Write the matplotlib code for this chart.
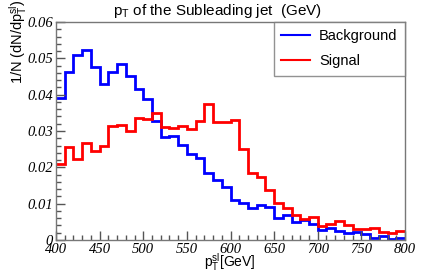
import numpy as np
import matplotlib
matplotlib.use("Agg")
import matplotlib.pyplot as plt
from matplotlib.ticker import MultipleLocator, FixedLocator

plt.rcParams['mathtext.default'] = 'regular'
plt.rcParams['font.family'] = ['Liberation Sans', 'DejaVu Sans']

edges = np.arange(400, 801, 10)
background = [0.0390, 0.0463, 0.0509, 0.0523, 0.0477, 0.0429, 0.0463, 0.0484, 0.0451, 0.0415,
              0.0389, 0.0328, 0.0284, 0.0287, 0.0261, 0.0236, 0.0227, 0.0184, 0.0165, 0.0147,
              0.0110, 0.0101, 0.0088, 0.0096, 0.0092, 0.0060, 0.0069, 0.0050, 0.0055, 0.0043,
              0.0028, 0.0032, 0.0026, 0.0019, 0.0022, 0.0017, 0.0006, 0.0011, 0.0002, 0.0006]
signal = [0.0209, 0.0257, 0.0223, 0.0266, 0.0246, 0.0259, 0.0314, 0.0316, 0.0301, 0.0335,
          0.0333, 0.0349, 0.0312, 0.0309, 0.0314, 0.0306, 0.0328, 0.0374, 0.0325, 0.0325,
          0.0330, 0.0250, 0.0184, 0.0174, 0.0138, 0.0103, 0.0089, 0.0069, 0.0057, 0.0062,
          0.0039, 0.0043, 0.0053, 0.0042, 0.0031, 0.0030, 0.0032, 0.0023, 0.0019, 0.0024]
xticks = [400, 450, 500, 550, 600, 650, 700, 750, 800]
yticks = [0, 0.01, 0.02, 0.03, 0.04, 0.05, 0.06]
ytick_labels = ['0', '0.01', '0.02', '0.03', '0.04', '0.05', '0.06']

fig = plt.figure(figsize=(4.36, 2.73), dpi=100)
ax = fig.add_axes([56/436, 1-240/273, (405-56)/436, (240-22)/273])

ax.stairs(background, edges, baseline=None, color='#0000ff', lw=2.0, label='Background')
ax.stairs(signal, edges, baseline=None, color='#ff0000', lw=2.0, label='Signal')

ax.set_xlim(400, 800)
ax.set_ylim(0, 0.06)
ax.xaxis.set_major_locator(FixedLocator(xticks))
ax.xaxis.set_minor_locator(MultipleLocator(10))
ax.yaxis.set_major_locator(FixedLocator(yticks))
ax.yaxis.set_minor_locator(MultipleLocator(0.002))
ax.set_xticklabels([str(v) for v in xticks], family='Liberation Serif', style='italic', fontsize=10.5)
ax.set_yticklabels(ytick_labels, family='Liberation Serif', style='italic', fontsize=10.5)
ax.tick_params(which='both', direction='in', color='#555555', top=False, right=False)
ax.tick_params(which='major', length=6.5, width=1)
ax.tick_params(which='minor', length=3.5, width=1)
ax.tick_params(axis='x', pad=2)
ax.tick_params(axis='y', pad=2)
for s in ax.spines.values():
    s.set_color('#777777')
    s.set_linewidth(1)

leg = ax.legend(loc='upper right', bbox_to_anchor=(1.0, 1.0), frameon=True, fancybox=False,
                edgecolor='#777777', fontsize=10.5, handlelength=2.0, handletextpad=0.6,
                borderaxespad=0, labelspacing=0.75, borderpad=0.5)
leg.get_frame().set_linewidth(1)
for l in leg.get_lines():
    l.set_linewidth(1.5)

fig.text(218/436, 1-11/273, r'p$_{T}$ of the Subleading jet  (GeV)', ha='center', va='center', fontsize=11)
fig.text(18/436, 1-84/273, r'1/N (dN/dp$_{T}^{sl}$)', rotation=90, ha='center', va='bottom', fontsize=10.5)
fig.text(230/436, 1-262/273, r'p$_{T}^{sl}$[GeV]', ha='center', va='center', fontsize=10)

fig.savefig('out.png', dpi=100)
